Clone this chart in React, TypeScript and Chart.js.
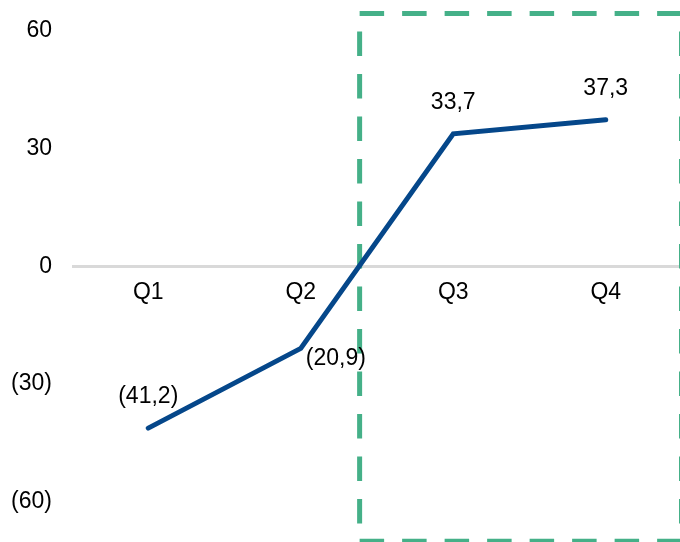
import React, { useEffect, useRef } from "react";
import { Chart, registerables } from "chart.js";

Chart.register(...registerables);

const CATEGORIES = ["Q1", "Q2", "Q3", "Q4"];
const VALUES = [-41.2, -20.9, 33.7, 37.3];
const Y_TICKS = [-60, -30, 0, 30, 60];
const LABEL_PLACEMENT = ["top", "right", "top", "top"];
const HIGHLIGHT_TOP = 64.3;
const HIGHLIGHT_BOTTOM = -70;

const FONT_FAMILY = "'Liberation Sans', Arial, sans-serif";
const FONT_SIZE = 23;
const LINE_COLOR = "#05478A";
const BOX_COLOR = "#45B088";

const fmt = (v: number) => {
  const s = Math.abs(v).toFixed(Number.isInteger(v) ? 0 : 1).replace(".", ",");
  return v < 0 ? `(${s})` : s;
};

const highlightPlugin = {
  id: "highlightBox",
  beforeDatasetsDraw(chart: any) {
    const { ctx, chartArea, scales } = chart;
    const x = scales.x;
    const y = scales.y;
    let idx = 0;
    for (let i = 0; i < VALUES.length - 1; i++) {
      if (VALUES[i] < 0 && VALUES[i + 1] >= 0) idx = i;
    }
    const t = -VALUES[idx] / (VALUES[idx + 1] - VALUES[idx]);
    const x0 = x.getPixelForValue(idx);
    const x1 = x.getPixelForValue(idx + 1);
    const left = x0 + t * (x1 - x0) + 0.5;
    const right = chartArea.right - 0.5;
    const top = y.getPixelForValue(HIGHLIGHT_TOP);
    const bottom = y.getPixelForValue(HIGHLIGHT_BOTTOM);
    ctx.save();
    ctx.strokeStyle = BOX_COLOR;
    ctx.lineWidth = 5;
    ctx.lineCap = "butt";
    ctx.setLineDash([24.5, 18]);
    const seg = (ax: number, ay: number, bx: number, by: number, off: number) => {
      ctx.lineDashOffset = off;
      ctx.beginPath();
      ctx.moveTo(ax, ay);
      ctx.lineTo(bx, by);
      ctx.stroke();
    };
    seg(left, top, right, top, 0);
    seg(left, top, left, bottom, 24.5);
    seg(left, bottom, right, bottom, 0);
    seg(right, top, right, bottom, 24.5);
    ctx.restore();
  },
};

const labelPlugin = {
  id: "valueLabels",
  afterDatasetsDraw(chart: any) {
    const { ctx } = chart;
    const meta = chart.getDatasetMeta(0);
    ctx.save();
    ctx.font = `${FONT_SIZE}px ${FONT_FAMILY}`;
    ctx.fillStyle = "#000000";
    meta.data.forEach((pt: any, i: number) => {
      const text = fmt(VALUES[i]);
      if (LABEL_PLACEMENT[i] === "right") {
        ctx.textAlign = "left";
        ctx.textBaseline = "middle";
        ctx.fillText(text, pt.x + 5, pt.y + 10);
      } else {
        ctx.textAlign = "center";
        ctx.textBaseline = "middle";
        ctx.fillText(text, pt.x, pt.y - 31);
      }
    });
    ctx.restore();
  },
};

export default function App() {
  const ref = useRef<HTMLCanvasElement | null>(null);

  useEffect(() => {
    if (!ref.current) return;
    const chart = new Chart(ref.current, {
      type: "line",
      data: {
        labels: CATEGORIES,
        datasets: [
          {
            data: VALUES,
            borderColor: LINE_COLOR,
            borderWidth: 5,
            borderCapStyle: "round",
            pointRadius: 0,
            pointHoverRadius: 0,
            tension: 0,
            fill: false,
          },
        ],
      },
      options: {
        animation: false,
        responsive: false,
        maintainAspectRatio: false,
        devicePixelRatio: 1,
        layout: { padding: { top: 30.5, bottom: 40, left: 0, right: 0 } },
        plugins: {
          legend: { display: false },
          tooltip: { enabled: false },
        },
        scales: {
          x: {
            type: "category",
            offset: true,
            position: { y: 0 } as any,
            grid: { display: false, drawTicks: false },
            border: { display: false },
            ticks: {
              color: "#000000",
              padding: 13,
              maxRotation: 0,
              font: { size: FONT_SIZE, family: FONT_FAMILY },
            },
          },
          y: {
            min: Y_TICKS[0],
            max: Y_TICKS[Y_TICKS.length - 1],
            afterBuildTicks: (scale: any) => {
              scale.ticks = Y_TICKS.map((v) => ({ value: v }));
            },
            afterFit: (scale: any) => {
              scale.width = 72;
              scale.paddingTop = 0;
              scale.paddingBottom = 0;
            },
            grid: {
              drawTicks: false,
              color: (c: any) => (c.tick && c.tick.value === 0 ? "#D9D9D9" : "rgba(0,0,0,0)"),
              lineWidth: 3,
            },
            border: { display: false },
            ticks: {
              color: "#000000",
              padding: 20,
              font: { size: FONT_SIZE, family: FONT_FAMILY },
              callback: (v: any) => fmt(Number(v)),
            },
          },
        },
      },
      plugins: [highlightPlugin, labelPlugin],
    });
    return () => chart.destroy();
  }, []);

  return (
    <div style={{ position: "absolute", left: 0, top: 0, width: 680, height: 542, overflow: "hidden", background: "#fff" }}>
      <canvas ref={ref} width={682} height={542} style={{ width: 682, height: 542, display: "block" }} />
    </div>
  );
}
